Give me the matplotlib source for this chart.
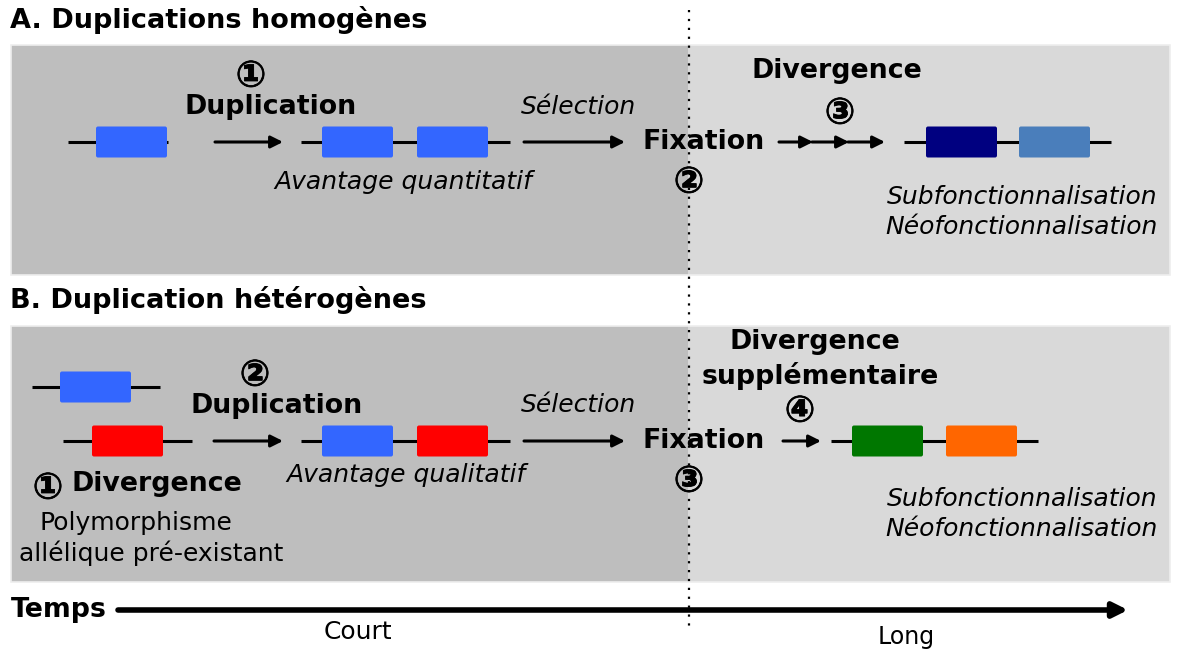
import matplotlib
matplotlib.use('Agg')
import matplotlib.pyplot as plt
import matplotlib.patheffects as pe
from matplotlib.patches import Rectangle, FancyBboxPatch

# ---- content -------------------------------------------------------------
section_titles = ["A. Duplications homogènes", "B. Duplication hétérogènes"]
time_label = "Temps"
time_ticks = ["Court", "Long"]
fates = ["Subfonctionnalisation", "Néofonctionnalisation"]
gene_colors = {"blue": "#3366ff", "red": "#ff0000", "navy": "#000080",
               "steel": "#4a7ebb", "green": "#007700", "orange": "#ff6600"}

# genes: (line start, line end, row y, [(box start, colour), ...])
genes_A = [(68, 168, 142, [(96, "blue")]),
           (301, 510, 142, [(322, "blue"), (417, "blue")]),
           (904, 1111, 142, [(926, "navy"), (1019, "steel")])]
genes_B = [(32, 160, 387, [(60, "blue")]),
           (63, 192, 441, [(92, "red")]),
           (301, 510, 441, [(322, "blue"), (417, "red")]),
           (831, 1038, 441, [(852, "green"), (946, "orange")])]

W, H = 1183, 655
fig = plt.figure(figsize=(11.83, 6.55), dpi=100)
ax = fig.add_axes([0, 0, 1, 1])
ax.set_xlim(0, W)
ax.set_ylim(H, 0)
ax.axis('off')

FAM = ['DejaVu Sans', 'Noto Sans CJK SC']
DARK, LIGHT = '#bebebe', '#d9d9d9'
BOX_W, BOX_H = 71, 31


def txt(x, y, s, size=18, weight='normal', style='normal', ha='center', va='center', color='black'):
    return ax.text(x, y, s, fontsize=size, fontweight=weight, fontstyle=style, ha=ha, va=va,
                   color=color, family=FAM, zorder=5)


def num(x, y, s):
    t = txt(x, y, s, size=26, weight='bold', va='center_baseline')
    t.set_path_effects([pe.withStroke(linewidth=0.6, foreground='black')])


def arrow(x0, x1, y, lw=2.2, ms=18):
    ax.annotate('', xy=(x1, y), xytext=(x0, y),
                arrowprops=dict(arrowstyle='-|>', lw=lw, color='black', mutation_scale=ms,
                                shrinkA=0, shrinkB=0), zorder=4)


def gene(x0, x1, y, boxes):
    ax.plot([x0, x1], [y, y], color='black', lw=2.2, solid_capstyle='butt', zorder=3)
    for bx, c in boxes:
        ax.add_patch(FancyBboxPatch((bx, y - BOX_H / 2), BOX_W, BOX_H,
                                    boxstyle='round,pad=0,rounding_size=2',
                                    facecolor=gene_colors[c], edgecolor='none', zorder=4))


# panels
for top, bot in [(45, 275), (326, 582)]:
    ax.add_patch(Rectangle((11, top), 677, bot - top, facecolor=DARK, edgecolor='none', zorder=1))
    ax.add_patch(Rectangle((688, top), 482, bot - top, facecolor=LIGHT, edgecolor='none', zorder=1))
    ax.add_patch(Rectangle((11, top), 1159, bot - top, facecolor='none', edgecolor='#eeeeee',
                           lw=1.2, zorder=2))

# dotted separator
ax.plot([689, 689], [10, 632], color='black', lw=1.6, linestyle=(0, (1, 3)), zorder=6)

# titles
txt(10, 20, section_titles[0], size=19.5, weight='bold', ha='left')
txt(10, 300, section_titles[1], size=19.5, weight='bold', ha='left')

# ---- panel A ----
for g in genes_A:
    gene(*g)
arrow(215, 283, 142)
num(251, 73, '①')
txt(271, 107, 'Duplication', size=19.3, weight='bold')
txt(403, 182, 'Avantage quantitatif', size=18, style='italic')
txt(578, 107, 'Sélection', size=18, style='italic')
arrow(524, 625, 142)
txt(704, 142, 'Fixation', size=19.3, weight='bold')
num(689, 179, '②')
txt(837, 71, 'Divergence', size=19.3, weight='bold')
num(840, 110, '③')
arrow(779, 813, 142)
arrow(812, 849, 142)
arrow(848, 885, 142)
txt(1022, 197, fates[0], size=18, style='italic')
txt(1022, 227, fates[1], size=18, style='italic')

# ---- panel B ----
for g in genes_B:
    gene(*g)
num(255, 372, '②')
txt(277, 406, 'Duplication', size=19.3, weight='bold')
arrow(214, 283, 441)
txt(406, 475, 'Avantage qualitatif', size=18, style='italic')
num(48, 485, '①')
txt(157, 484, 'Divergence', size=19.3, weight='bold')
txt(136, 523, 'Polymorphisme', size=18)
txt(151, 553, 'allélique pré-existant', size=18)
txt(578, 405, 'Sélection', size=18, style='italic')
arrow(524, 625, 441)
txt(704, 441, 'Fixation', size=19.3, weight='bold')
num(689, 478, '③')
txt(815, 342, 'Divergence', size=19.3, weight='bold')
txt(820, 376, 'supplémentaire', size=19.3, weight='bold')
num(800, 408, '④')
arrow(783, 821, 441)
txt(1022, 499, fates[0], size=18, style='italic')
txt(1022, 529, fates[1], size=18, style='italic')

# ---- time axis ----
txt(59, 610, time_label, size=19.3, weight='bold')
ax.annotate('', xy=(1128, 610), xytext=(118, 610),
            arrowprops=dict(arrowstyle='-|>', lw=4, color='black', mutation_scale=22,
                            shrinkA=0, shrinkB=0), zorder=4)
txt(358, 632, time_ticks[0], size=18)
txt(906, 637, time_ticks[1], size=17)

fig.savefig('out.png', dpi=100)
